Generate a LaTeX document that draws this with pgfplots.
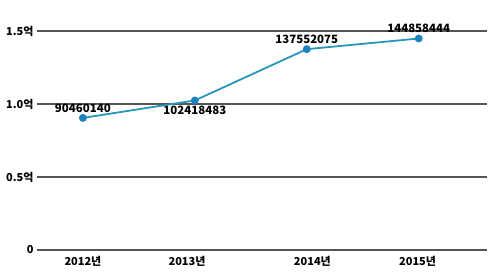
\documentclass[border=0pt]{standalone}
\usepackage{fontspec}
\setmainfont{Noto Sans CJK KR}
\usepackage{pgfplots}
\pgfplotsset{compat=1.18}
\definecolor{lineC}{RGB}{40,150,185}
\definecolor{markC}{RGB}{30,130,190}
\definecolor{gridC}{RGB}{85,85,85}
\begin{document}
\begin{tikzpicture}
\begin{axis}[
  scale only axis,
  width=450bp, height=219bp,
  xmin=-0.41, xmax=3.61,
  ymin=0, ymax=150000000,
  axis line style={draw=none},
  clip=false,
  ytick={0,50000000,100000000,150000000},
  yticklabels={0,0.5억,1.0억,1.5억},
  xtick={0,0.93,2.05,2.99},
  xticklabels={2012년,2013년,2014년,2015년},
  scaled y ticks=false,
  major tick length=0pt,
  tick style={draw=none},
  ticklabel style={font=\fontsize{11}{13}\selectfont\bfseries, text=black},
  yticklabel style={xshift=0bp},
  xticklabel style={yshift=-3bp},
  ymajorgrids,
  grid style={gridC, line width=1.2bp},
  every node near coord/.append style={font=\fontsize{11.5}{13}\selectfont\bfseries, text=black},
]
\addplot[lineC, line width=1.8bp, mark=*, mark size=3bp, mark options={fill=markC, draw=markC}]
  coordinates {(0,90460140) (1,102418483) (2,137552075) (3,144858444)};
\addplot[draw=none, mark=none, nodes near coords, point meta=explicit symbolic,
  every node near coord/.append style={anchor=south, yshift=2bp}]
  coordinates {(0,90460140)[90460140] (2,137552075)[137552075] (3,144858444)[144858444]};
\addplot[draw=none, mark=none, nodes near coords, point meta=explicit symbolic,
  every node near coord/.append style={anchor=north, yshift=-2bp}]
  coordinates {(1,102418483)[102418483]};
\end{axis}
\pgfresetboundingbox
\path (-37bp,-26bp) rectangle (463bp,250bp);
\end{tikzpicture}
\end{document}
